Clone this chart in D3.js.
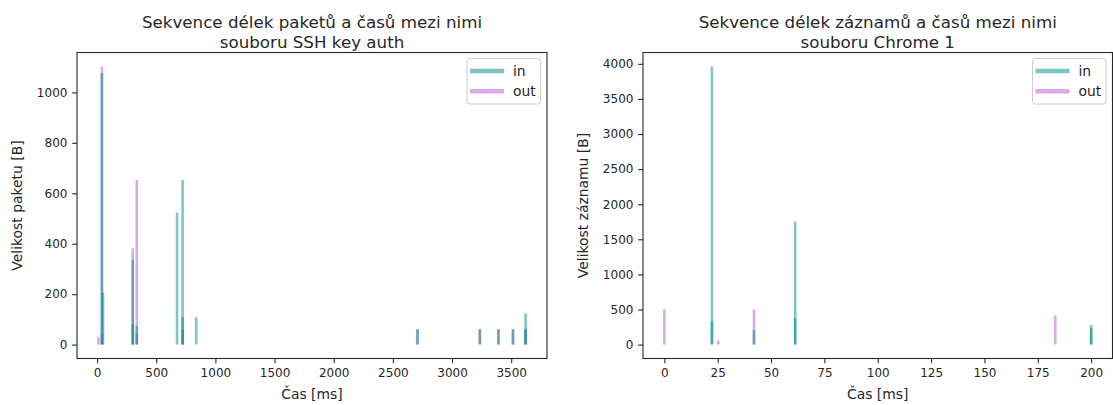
<!DOCTYPE html>
<html><head><meta charset="utf-8">
<script src="https://cdn.jsdelivr.net/npm/d3@7"></script>
<style>
body{margin:0;background:#fff;}
text{font-family:"DejaVu Sans",sans-serif;fill:#262626;}
</style></head>
<body>
<svg id="chart" width="1113" height="405"></svg>
<script>
// ---- Data: SSH key auth ----
const sshInTimes  = [41, 50, 302, 302, 336, 676, 723, 723, 723, 838, 2710, 3235, 3392, 3515, 3622, 3622];
const sshInSizes  = [1077, 206, 336, 80, 75, 524, 653, 108, 60, 108, 61, 61, 61, 61, 124, 61];
const sshOutTimes = [11, 41, 41, 302, 336, 336, 2706, 3235, 3392, 3515, 3622];
const sshOutSizes = [30, 1103, 41, 382, 653, 44, 61, 61, 61, 61, 61];
const sshXTicks = [0, 500, 1000, 1500, 2000, 2500, 3000, 3500];
const sshYTicks = [0, 200, 400, 600, 800, 1000];

// ---- Data: Chrome 1 ----
const chrInTimes  = [22.3, 22.3, 42, 61.3, 61.3, 200, 200];
const chrInSizes  = [3963, 328, 205, 1755, 376, 281, 233];
const chrOutTimes = [0, 25.2, 42, 183.2];
const chrOutSizes = [505, 62, 500, 414];
const chrXTicks = [0, 25, 50, 75, 100, 125, 150, 175, 200];
const chrYTicks = [0, 500, 1000, 1500, 2000, 2500, 3000, 3500, 4000];

const seriesNames = ["in", "out"];
const colors = {in: "#008b8b", out: "#ba55d3"};
const alpha = 0.5;

const svg = d3.select("#chart");

function pad(ext){ const r = ext[1]-ext[0]; return [ext[0]-0.05*r, ext[1]+0.05*r]; }

function panel(cfg){
  const {x0, x1, y0, y1} = cfg;
  const allT = cfg.inT.concat(cfg.outT);
  const allV = cfg.inV.concat(cfg.outV).concat([0]);
  const xs = d3.scaleLinear().domain(pad(d3.extent(allT))).range([x0, x1]);
  const ys = d3.scaleLinear().domain(pad(d3.extent(allV))).range([y1, y0]);
  const g = svg.append("g");

  const clip = "clip" + cfg.id;
  svg.append("clipPath").attr("id", clip).append("rect")
    .attr("x", x0).attr("y", y0).attr("width", x1-x0).attr("height", y1-y0);
  const plot = g.append("g").attr("clip-path", `url(#${clip})`);

  const draw = (T, V, c) => {
    plot.selectAll(null).data(T.map((t,i)=>({t, v:V[i]}))).enter().append("line")
      .attr("x1", d=>xs(d.t)).attr("x2", d=>xs(d.t))
      .attr("y1", ys(0)).attr("y2", d=>ys(d.v))
      .attr("stroke", c).attr("stroke-opacity", alpha).attr("stroke-width", 2.6);
  };
  draw(cfg.outT, cfg.outV, colors.out);
  draw(cfg.inT, cfg.inV, colors.in);

  // axes
  const xa = g.append("g").attr("transform", `translate(0,${y1})`)
    .call(d3.axisBottom(xs).tickValues(cfg.xTicks).tickSize(4.8).tickPadding(4.8).tickFormat(d3.format("d")));
  const ya = g.append("g").attr("transform", `translate(${x0},0)`)
    .call(d3.axisLeft(ys).tickValues(cfg.yTicks).tickSize(4.8).tickPadding(4.8).tickFormat(d3.format("d")));
  [xa, ya].forEach(a => {
    a.select(".domain").remove();
    a.selectAll("line").attr("stroke", "#262626").attr("stroke-width", 1.1);
    a.selectAll("text").attr("font-size", 12).attr("fill", "#262626").style("font-family", "DejaVu Sans");
  });

  // frame
  g.append("rect").attr("x", x0).attr("y", y0).attr("width", x1-x0).attr("height", y1-y0)
    .attr("fill", "none").attr("stroke", "#262626").attr("stroke-width", 1.1);

  // titles
  const cx = (x0+x1)/2;
  g.append("text").attr("x", cx).attr("y", 28).attr("text-anchor", "middle").attr("font-size", 16.7).text(cfg.title1);
  g.append("text").attr("x", cx).attr("y", 47.5).attr("text-anchor", "middle").attr("font-size", 16.7).text(cfg.title2);
  g.append("text").attr("x", cx).attr("y", 398.5).attr("text-anchor", "middle").attr("font-size", 13.9).text("Čas [ms]");
  g.append("text").attr("transform", `translate(${cfg.ylabX},${(y0+y1)/2}) rotate(-90)`)
    .attr("text-anchor", "middle").attr("font-size", 13.9).text(cfg.ylab);

  // legend
  const lx = x1 - 80, ly = y0 + 6;
  const lg = g.append("g");
  lg.append("rect").attr("x", lx).attr("y", ly).attr("width", 73.5).attr("height", 45.5).attr("rx", 3)
    .attr("fill", "#fff").attr("fill-opacity", 0.8).attr("stroke", "#cccccc").attr("stroke-width", 1);
  seriesNames.forEach((s, i) => {
    const yy = ly + 12.5 + i*20.3;
    lg.append("line").attr("x1", lx+3).attr("x2", lx+37).attr("y1", yy).attr("y2", yy)
      .attr("stroke", colors[s]).attr("stroke-opacity", alpha).attr("stroke-width", 4.5);
    lg.append("text").attr("x", lx+46).attr("y", yy+4.8).attr("font-size", 13.9).text(s);
  });
}

panel({id:"a", x0:77, x1:547, y0:52.5, y1:358.5,
  inT:sshInTimes, inV:sshInSizes, outT:sshOutTimes, outV:sshOutSizes,
  xTicks:sshXTicks, yTicks:sshYTicks,
  title1:"Sekvence délek paketů a časů mezi nimi", title2:"souboru SSH key auth",
  ylab:"Velikost paketu [B]", ylabX:22});
panel({id:"b", x0:643, x1:1112.5, y0:52.5, y1:358.5,
  inT:chrInTimes, inV:chrInSizes, outT:chrOutTimes, outV:chrOutSizes,
  xTicks:chrXTicks, yTicks:chrYTicks,
  title1:"Sekvence délek záznamů a časů mezi nimi", title2:"souboru Chrome 1",
  ylab:"Velikost záznamu [B]", ylabX:588});
</script>
</body></html>
